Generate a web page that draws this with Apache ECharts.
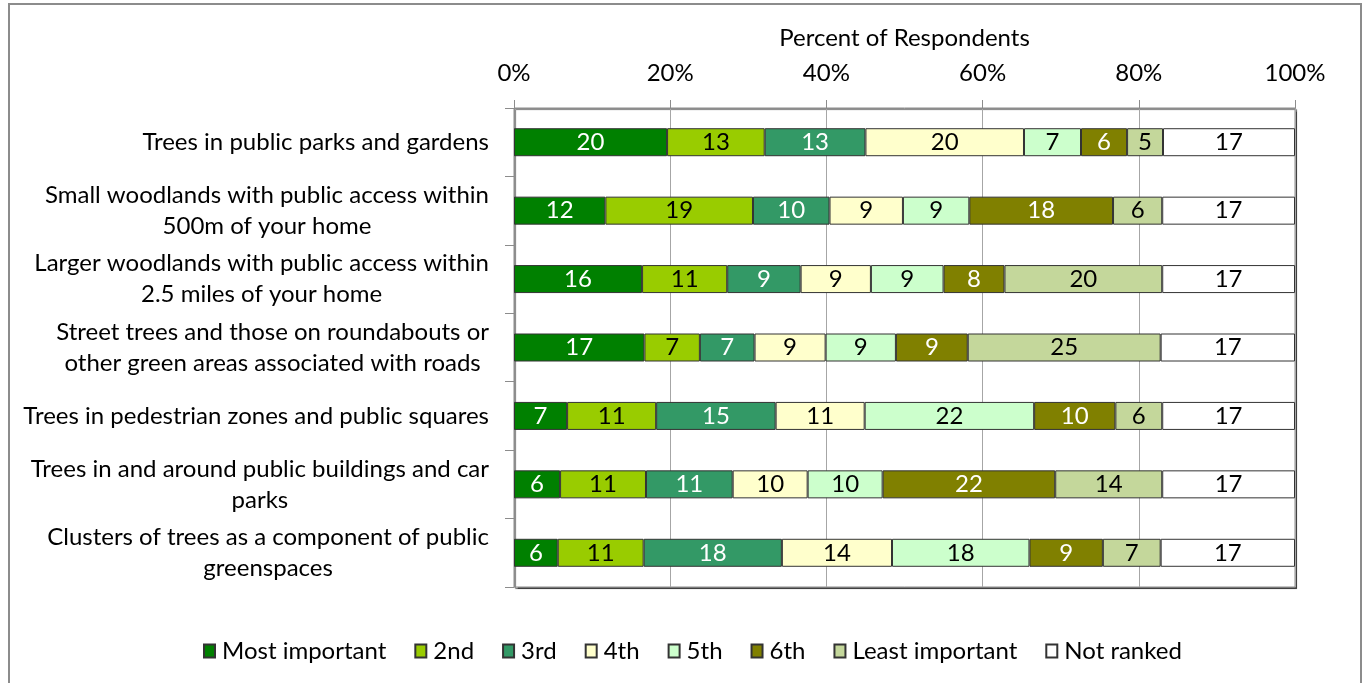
<!DOCTYPE html>
<html>
<head>
<meta charset="utf-8">
<script src="https://cdn.jsdelivr.net/npm/echarts@6/dist/echarts.min.js"></script>
<style>
html, body { margin: 0; padding: 0; background: #fff; }
#chart { width: 1364px; height: 683px; }
</style>
</head>
<body>
<div id="chart"></div>
<script>
// categories, top to bottom
const categories = [
    'Trees in public parks and gardens',
    'Small woodlands with public access within\n500m of your home',
    'Larger woodlands with public access within\n2.5 miles of your home',
    'Street trees and those on roundabouts or\nother green areas associated with roads',
    'Trees in pedestrian zones and public squares',
    'Trees in and around public buildings and car\nparks',
    'Clusters of trees as a component of public\ngreenspaces'
];
const rankNames = ['Most important', '2nd', '3rd', '4th', '5th', '6th', 'Least important', 'Not ranked'];

// percent of respondents per rank
const mostImportant  = [19.6, 11.7, 16.4, 16.7,  6.8,  5.9,  5.6];
const second         = [12.5, 18.9, 10.9,  7.1, 11.4, 11.0, 11.0];
const third          = [12.9,  9.8,  9.4,  7.0, 15.3, 11.1, 17.7];
const fourth         = [20.3,  9.4,  9.0,  9.1, 11.4,  9.6, 14.1];
const fifth          = [ 7.3,  8.5,  9.3,  9.0, 21.7,  9.6, 17.6];
const sixth          = [ 5.9, 18.4,  7.8,  9.2, 10.4, 22.1,  9.4];
const leastImportant = [ 4.6,  6.3, 20.2, 24.7,  6.0, 13.7,  7.4];
const notRanked      = [16.9, 17.0, 17.0, 17.2, 17.0, 17.0, 17.2];

const xTicks = [0, 20, 40, 60, 80, 100];

const values = [mostImportant, second, third, fourth, fifth, sixth, leastImportant, notRanked];
const colors = ['#008000', '#99CC00', '#339966', '#FFFFCC', '#CCFFCC', '#808000', '#C4D79B', '#FFFFFF'];
const labelColors = ['#fff', '#000', '#fff', '#000', '#000', '#fff', '#000', '#000'];

const FONT = 'Lato';
const SIZE = 24;
const chart = echarts.init(document.getElementById('chart'));

chart.setOption({
    animation: false,
    color: colors,
    textStyle: { fontFamily: FONT },
    graphic: [{
        type: 'rect',
        shape: { x: 9, y: 4, width: 1352, height: 690 },
        style: { fill: 'none', stroke: '#8c8c8c', lineWidth: 2 },
        silent: true
    }],
    grid: {
        left: 514, right: 69, top: 108, bottom: 96,
        show: true,
        backgroundColor: '#fff',
        borderColor: '#8c8c8c',
        borderWidth: 1,
        shadowColor: 'rgba(0,0,0,0.55)',
        shadowOffsetX: 1.5,
        shadowOffsetY: 1.5,
        shadowBlur: 1
    },
    legend: {
        data: rankNames,
        bottom: 15,
        left: 198,
        icon: 'rect',
        itemWidth: 11,
        itemHeight: 13,
        itemGap: 28,
        textStyle: { fontFamily: FONT, fontSize: SIZE, color: '#000', padding: [0, 0, 0, 2] }
    },
    xAxis: {
        type: 'value',
        position: 'top',
        min: xTicks[0],
        max: xTicks[xTicks.length - 1],
        interval: xTicks[1] - xTicks[0],
        name: 'Percent of Respondents',
        nameLocation: 'middle',
        nameGap: 58,
        nameTextStyle: { fontFamily: FONT, fontSize: SIZE, color: '#000' },
        axisLine: { show: true, lineStyle: { color: '#8c8c8c' } },
        axisTick: { show: true, length: 8, lineStyle: { color: '#8c8c8c' } },
        axisLabel: { formatter: '{value}%', fontFamily: FONT, fontSize: SIZE, color: '#000', margin: 23 },
        splitLine: { show: true, lineStyle: { color: '#a6a6a6' } }
    },
    yAxis: {
        type: 'category',
        data: categories,
        inverse: true,
        axisLine: { show: true, lineStyle: { color: '#8c8c8c' } },
        axisTick: { show: true, length: 9, lineStyle: { color: '#8c8c8c' } },
        axisLabel: {
            margin: 25,
            formatter: v => v.split('\n').map(l => '{l|' + l + '}').join('\n'),
            rich: { l: { align: 'center', fontFamily: FONT, fontSize: SIZE, color: '#000', lineHeight: 31 } }
        }
    },
    series: values.map((arr, i) => ({
        name: rankNames[i],
        type: 'bar',
        stack: 'total',
        data: arr,
        barWidth: 28,
        itemStyle: { color: colors[i], borderColor: '#333', borderWidth: 1 },
        label: {
            show: true,
            position: 'inside',
            formatter: p => Math.round(p.value),
            fontFamily: FONT,
            fontSize: SIZE,
            color: labelColors[i]
        }
    }))
});
</script>
</body>
</html>
